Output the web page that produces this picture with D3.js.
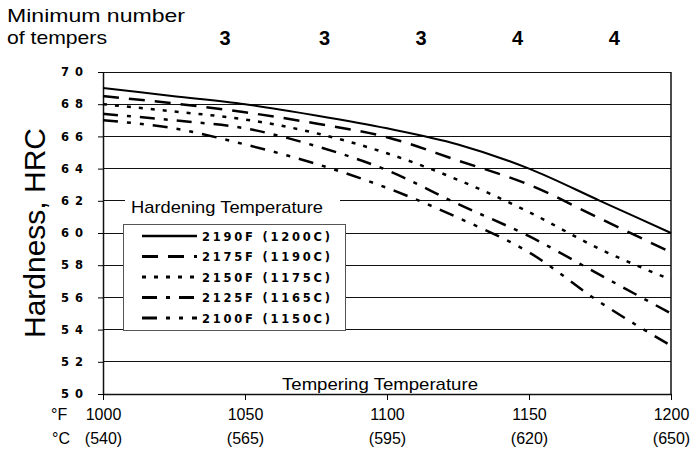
<!DOCTYPE html>
<html>
<head>
<meta charset="utf-8">
<script src="https://cdn.jsdelivr.net/npm/d3@7"></script>
<style>
  html, body { margin: 0; padding: 0; background: #fff; }
  svg { display: block; font-family: "Liberation Sans", Arial, sans-serif; }
</style>
</head>
<body>
<svg id="chart" width="694" height="449"></svg>
<script>
// data
const tempF = [1000, 1025, 1050, 1075, 1100, 1125, 1150, 1175, 1200];
const hrc2190 = [69.0, 68.5, 68.0, 67.3, 66.5, 65.5, 64.0, 62.0, 60.0];
const hrc2175 = [68.5, 68.05, 67.5, 66.8, 65.95, 64.5, 63.0, 60.9, 58.8];
const hrc2150 = [68.0, 67.55, 67.05, 66.2, 64.95, 63.3, 61.3, 59.0, 57.1];
const hrc2125 = [67.4, 67.0, 66.5, 65.4, 63.9, 61.8, 59.8, 57.4, 55.0];
const hrc2100 = [67.0, 66.5, 65.5, 64.3, 62.8, 60.95, 58.8, 55.7, 53.0];
const seriesNames = ["2190F (1200C)", "2175F (1190C)", "2150F (1175C)", "2125F (1165C)", "2100F (1150C)"];

const xTicksF = [1000, 1050, 1100, 1150, 1200];
const xTicksC = ["(540)", "(565)", "(595)", "(620)", "(650)"];
const yTicks = [50, 52, 54, 56, 58, 60, 62, 64, 66, 68, 70];

const tempers = [3, 3, 3, 4, 4];
const temperAtF = [1043, 1078, 1112, 1146, 1180];

// line looks, same order as the series
const dashes = [null, "16,10", "4,8", "15,9,4,9", "15,9,4,9,4,9"];
const widths = [2, 2.5, 2.5, 2.5, 2.5];

const svg = d3.select("#chart");
const x = d3.scaleLinear().domain([1000, 1200]).range([103, 671]);
const y = d3.scaleLinear().domain([50, 70]).range([394, 72]);

// header
svg.append("text").attr("x", 7).attr("y", 22).attr("font-size", 19)
  .attr("textLength", 178).attr("lengthAdjust", "spacingAndGlyphs").text("Minimum number");
svg.append("text").attr("x", 7).attr("y", 44).attr("font-size", 19)
  .attr("textLength", 100).attr("lengthAdjust", "spacingAndGlyphs").text("of tempers");
svg.selectAll(".temper").data(tempers).enter().append("text")
  .attr("class", "temper")
  .attr("x", (d, i) => x(temperAtF[i]))
  .attr("y", 45)
  .attr("text-anchor", "middle")
  .attr("font-size", 20).attr("font-weight", "bold")
  .text(d => d);

// grid
svg.append("g").selectAll("line").data(yTicks.slice(1)).enter().append("line")
  .attr("x1", x(1000)).attr("x2", x(1200))
  .attr("y1", d => y(d)).attr("y2", d => y(d))
  .attr("stroke", "#111").attr("stroke-width", 1).attr("shape-rendering", "crispEdges");
svg.append("line")
  .attr("x1", x(1200)).attr("x2", x(1200)).attr("y1", y(70)).attr("y2", y(50))
  .attr("stroke", "#111").attr("stroke-width", 1.5);

// y axis
const yAxis = svg.append("g").attr("transform", `translate(${x(1000)},0)`)
  .call(d3.axisLeft(y).tickValues(yTicks).tickSize(5).tickSizeOuter(0).tickPadding(15));
yAxis.select(".domain").attr("stroke", "#111").attr("stroke-width", 1.5);
yAxis.selectAll("text")
  .attr("font-family", "'DejaVu Sans', sans-serif")
  .attr("font-weight", "bold").attr("font-size", 11.5).attr("fill", "#000")
  .attr("textLength", 22).attr("lengthAdjust", "spacing");

// x axis
const xAxis = svg.append("g").attr("transform", `translate(0,${y(50)})`)
  .call(d3.axisBottom(x).tickValues(xTicksF).tickSize(6).tickSizeOuter(0).tickFormat(""));
xAxis.select(".domain").attr("stroke", "#111").attr("stroke-width", 1.5);
xAxis.selectAll(".tick text").remove();
xAxis.selectAll(".tick").append("text").attr("y", 26).attr("font-size", 16)
  .attr("fill", "#000").attr("text-anchor", "middle").text(d => d);
xAxis.selectAll(".tick").append("text").attr("y", 50).attr("font-size", 16)
  .attr("fill", "#000").attr("text-anchor", "middle").text((d, i) => xTicksC[i]);
svg.append("text").attr("x", 51).attr("y", y(50) + 26).attr("font-size", 16).text("°F");
svg.append("text").attr("x", 52).attr("y", y(50) + 50).attr("font-size", 16).text("°C");

svg.append("text").attr("x", 380).attr("y", 390).attr("text-anchor", "middle")
  .attr("font-size", 17).attr("textLength", 196).attr("lengthAdjust", "spacingAndGlyphs")
  .text("Tempering Temperature");

svg.append("text")
  .attr("transform", `translate(45,${(y(50) + y(70)) / 2}) rotate(-90)`)
  .attr("text-anchor", "middle").attr("font-size", 30).text("Hardness, HRC");

// curves
const series = [hrc2190, hrc2175, hrc2150, hrc2125, hrc2100];
const line = d3.line().x(d => x(d[0])).y(d => y(d[1])).curve(d3.curveMonotoneX);
svg.append("g").selectAll("path").data(series).enter().append("path")
  .attr("d", s => line(s.map((v, i) => [tempF[i], v])))
  .attr("fill", "none").attr("stroke", "#000")
  .attr("stroke-width", (d, i) => widths[i])
  .attr("stroke-dasharray", (d, i) => dashes[i]);

// legend
const lg = svg.append("g");
lg.append("rect").attr("x", 125).attr("y", 192).attr("width", 215).attr("height", 28).attr("fill", "#fff");
lg.append("text").attr("x", 131).attr("y", 213).attr("font-size", 17)
  .attr("textLength", 192).attr("lengthAdjust", "spacingAndGlyphs").text("Hardening Temperature");
lg.append("rect").attr("x", 123.5).attr("y", 224.5).attr("width", 222).attr("height", 106)
  .attr("fill", "#fff").attr("stroke", "#555").attr("stroke-width", 1);
const item = lg.selectAll(".item").data(seriesNames).enter().append("g")
  .attr("class", "item")
  .attr("transform", (d, i) => `translate(0,${236 + i * 20.5})`);
item.append("line").attr("x1", 142).attr("x2", 197).attr("y1", 0).attr("y2", 0)
  .attr("stroke", "#000")
  .attr("stroke-width", (d, i) => widths[i] + 0.5)
  .attr("stroke-dasharray", (d, i) => dashes[i]);
item.append("text").attr("x", 202).attr("y", 4.5)
  .attr("font-family", "'DejaVu Sans', sans-serif")
  .attr("font-weight", "bold").attr("font-size", 11.5)
  .attr("textLength", 128).attr("lengthAdjust", "spacing")
  .text(d => d);
</script>
</body>
</html>
